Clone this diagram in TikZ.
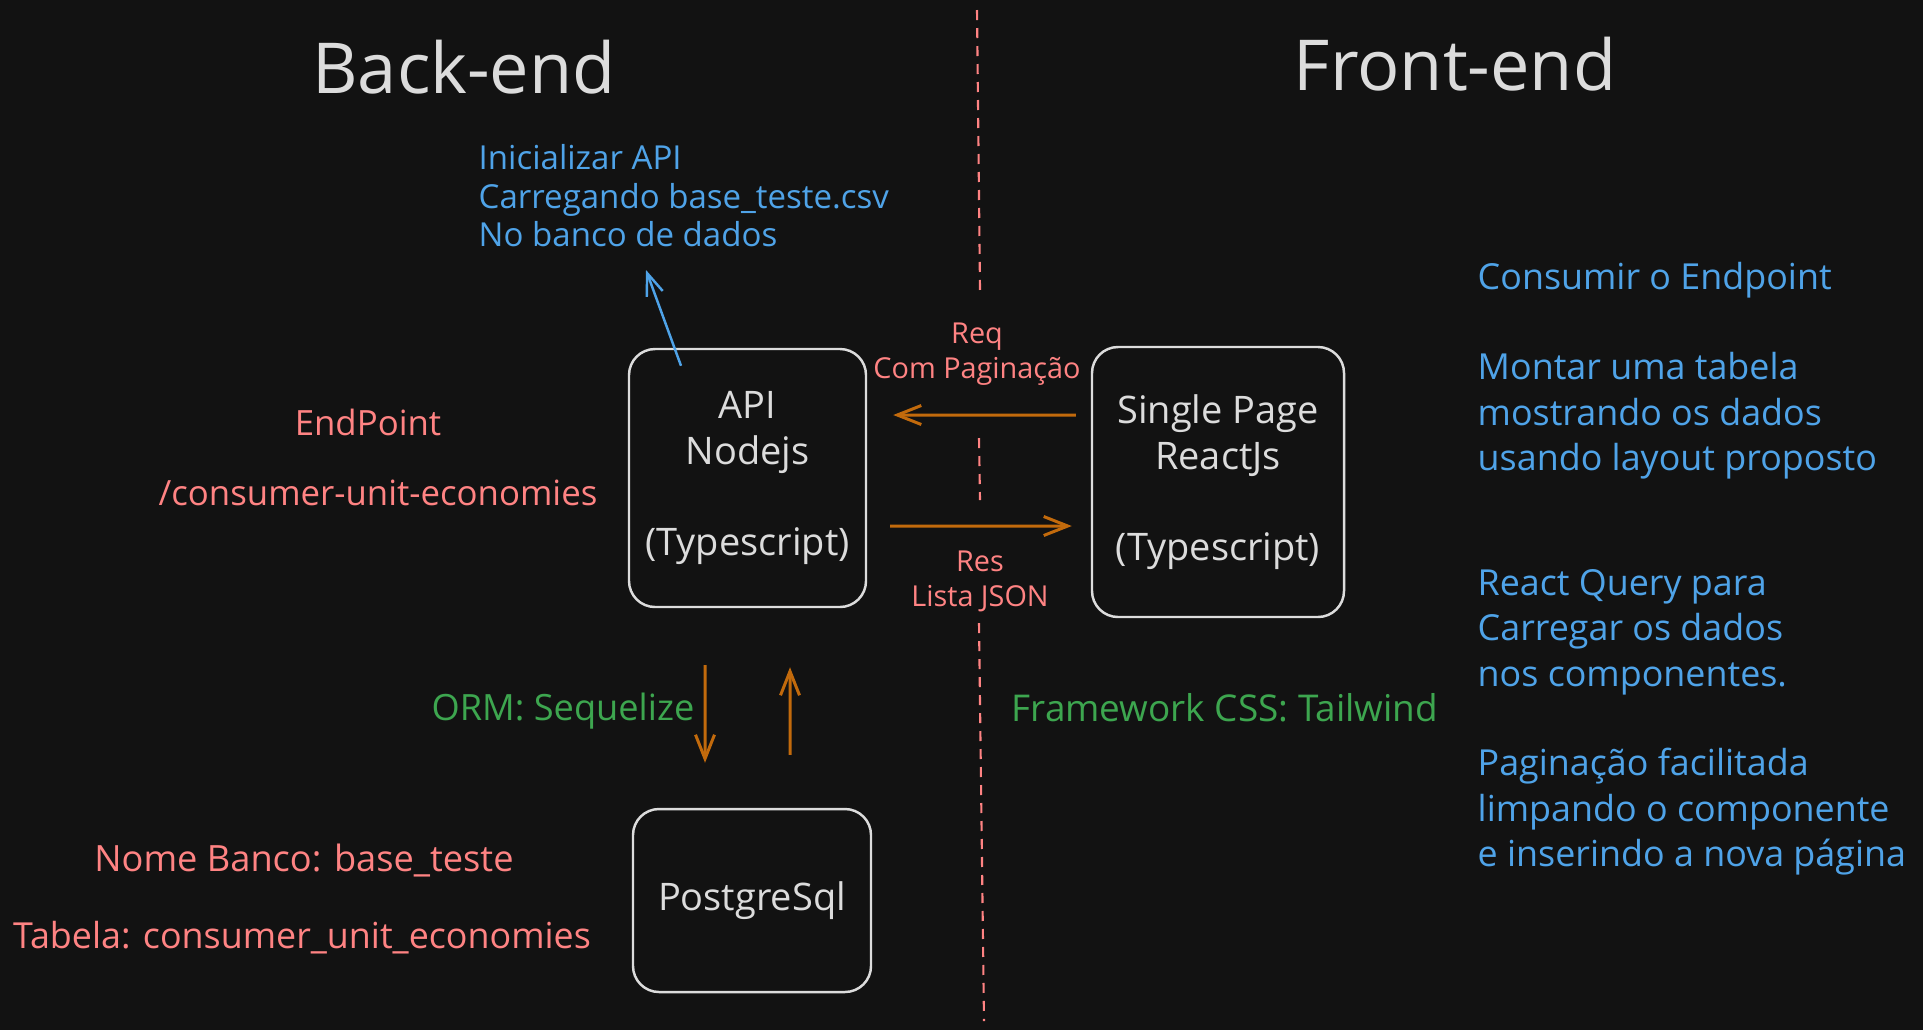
\documentclass[tikz,border=0pt]{standalone}
\usepackage{fontspec}
\setmainfont{Open Sans}
\usetikzlibrary{positioning}
\usetikzlibrary{arrows.meta}

\definecolor{canvas}{HTML}{121212}
\definecolor{chalk}{HTML}{DCDCDC}
\definecolor{skyblue}{HTML}{4FA3E8}
\definecolor{salmon}{HTML}{FF8383}
\definecolor{leaf}{HTML}{3DA64F}
\definecolor{rust}{HTML}{C26A0C}

\begin{document}
\begin{tikzpicture}

\def\titlefont{\fontsize{20pt}{24pt}\selectfont}
\def\labfont{\fontsize{9.9pt}{12.95pt}\selectfont}
\def\boxfont{\fontsize{10.8pt}{12.95pt}\selectfont}
\def\notefont{\fontsize{10.2pt}{12.95pt}\selectfont}
\def\smallfont{\fontsize{8.2pt}{9.9pt}\selectfont}

\tikzset{
  box/.style={draw=chalk, line width=0.7pt, rounded corners=2.6mm, fill=canvas, text=chalk, align=center, font=\boxfont, inner sep=0pt},
  note/.style={align=left, anchor=west, inner sep=0pt, font=\notefont},
  flow/.style={rust, line width=0.85pt, -{Straight Barb[length=2.4mm,width=1.9mm]}},
  hint/.style={skyblue, line width=0.7pt, -{Straight Barb[length=2.2mm,width=1.7mm]}},
  divider/.style={salmon, line width=0.6pt, dash pattern=on 1mm off 0.8mm},
}

\fill[canvas] (0,0) rectangle (19.23,-10.30);
\useasboundingbox (0,0) rectangle (19.23,-10.30);

% titles
\node[font=\titlefont,text=chalk] (back) at (4.64,-0.67) {Back-end};
\node[font=\titlefont,text=chalk] (front) at (14.55,-0.64) {Front-end};

% dashed split
\coordinate (cutA) at (9.77,-0.10);
\coordinate (cutB) at (9.80,-2.90);
\coordinate (cutC) at (9.79,-4.38);
\coordinate (cutD) at (9.80,-5.00);
\coordinate (cutE) at (9.79,-6.23);
\coordinate (cutF) at (9.84,-10.21);
\draw[divider] (cutA) -- (cutB);
\draw[divider] (cutC) -- (cutD);
\draw[divider] (cutE) -- (cutF);

% boxes
\node[box, minimum width=2.37cm, minimum height=2.58cm] (api) at (7.475,-4.78) {API\\Nodejs\\[\baselineskip](Typescript)};
\node[box, minimum width=2.52cm, minimum height=2.70cm] (spa) at (12.18,-4.82) {Single Page\\ReactJs\\[\baselineskip](Typescript)};
\node[box, minimum width=2.38cm, minimum height=1.83cm] (pg) at (7.52,-9.005) {PostgreSql};

% back-end notes
\node[note, text=skyblue, font=\fontsize{9.4pt}{10.95pt}\selectfont] (init) at (4.78,-1.96) {Inicializar API\\Carregando base\_teste.csv\\No banco de dados};
\coordinate (initTip) at (6.46,-2.70);

\node[font=\labfont, text=salmon] (endpoint) at (3.68,-4.22) {EndPoint};
\node[font=\labfont, text=salmon] (route) at (3.78,-4.93) {/consumer-unit-economies};

\node[font=\fontsize{10.3pt}{12pt}\selectfont, text=salmon] (dbname) at (3.04,-8.61) {Nome Banco: base\_teste};
\node[font=\fontsize{10.2pt}{12pt}\selectfont, text=salmon] (tablename) at (3.02,-9.38) {Tabela: consumer\_unit\_economies};

\node[font=\fontsize{10.3pt}{12pt}\selectfont, text=leaf, anchor=east, inner sep=0pt] (orm) at (6.95,-7.11) {ORM: Sequelize};
\node[font=\fontsize{10.5pt}{12pt}\selectfont, text=leaf, anchor=west, inner sep=0pt] (css) at (10.11,-7.08) {Framework CSS: Tailwind};

% arrow labels
\node[font=\smallfont, text=salmon, align=center] (req) at (9.77,-3.545) {Req\\Com Paginação};
\node[font=\smallfont, text=salmon, align=center] (res) at (9.80,-5.815) {Res\\Lista JSON};

% front-end notes
\node[note, text=skyblue] (consume) at (14.77,-2.80) {Consumir o Endpoint};
\node[note, text=skyblue] (grid) at (14.77,-4.16) {Montar uma tabela\\mostrando os dados\\usando layout proposto};
\node[note, text=skyblue] (query) at (14.77,-6.32) {React Query para\\Carregar os dados\\nos componentes.};
\node[note, text=skyblue] (paging) at (14.77,-8.12) {Paginação facilitada\\limpando o componente\\e inserindo a nova página};

% connectors
\draw[hint] ([xshift=-6.65mm,yshift=-1.8mm]api.north) -- (initTip);
\draw[flow, shorten <=1.5mm, shorten >=2.6mm] ([yshift=6.7mm]spa.west) -- ([yshift=6.3mm]api.east);
\draw[flow, shorten <=2.3mm, shorten >=1.9mm] ([yshift=-4.8mm]api.east) -- ([yshift=-4.4mm]spa.west);
\draw[flow, shorten <=5.7mm, shorten >=4.5mm] ([xshift=-4.25mm]api.south) -- ([xshift=-4.7mm]pg.north);
\draw[flow, shorten <=5.3mm, shorten >=5.9mm] ([xshift=3.8mm]pg.north) -- ([xshift=4.25mm]api.south);
\end{tikzpicture}
\end{document}
